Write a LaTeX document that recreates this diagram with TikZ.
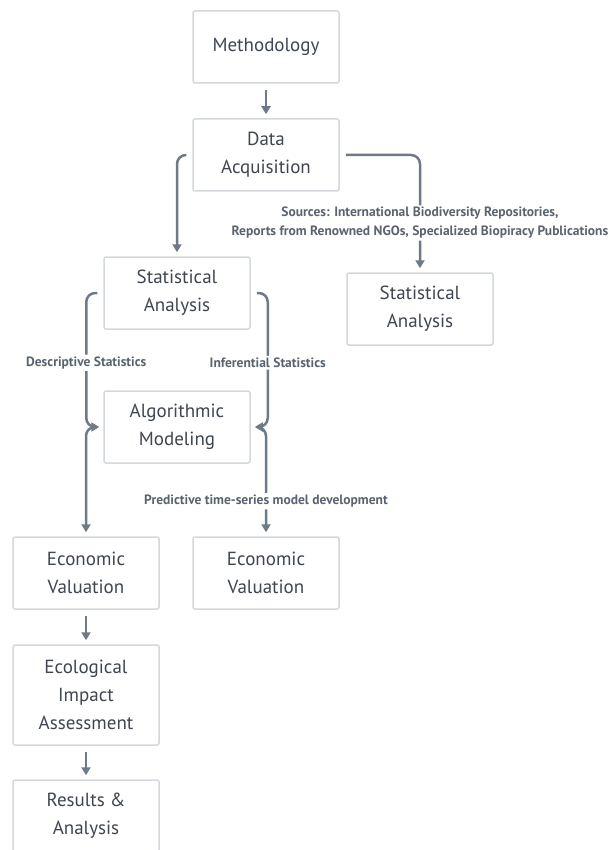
\documentclass[tikz,border=0pt]{standalone}
\usepackage{fontspec}
\setmainfont{PT Sans}
\usepackage{tikz}
\usetikzlibrary{arrows.meta, positioning}
\definecolor{BoxLine}{HTML}{D3D8DD}
\definecolor{TextGray}{HTML}{3F4650}
\definecolor{ArrowGray}{HTML}{6E7A87}
\definecolor{LabelGray}{HTML}{5A6470}
\tikzset{
    box/.style={draw=BoxLine, line width=1.5pt, fill=white, rounded corners=2pt, align=center, text=TextGray,
        font=\fontsize{19}{28}\selectfont, minimum height=72pt, minimum width=146pt},
    tallbox/.style={box, minimum height=100pt},
    arr/.style={-{Triangle[length=8pt, width=9pt]}, line width=2.5pt, draw=ArrowGray, rounded corners=9pt,
        shorten <=6pt, shorten >=4pt},
    edgelabel/.style={fill=white, text=LabelGray, font=\fontsize{13.5}{19}\selectfont\bfseries, align=center, inner sep=2pt}
}

\begin{document}
\begin{tikzpicture}[x=1pt, y=1pt]
    \useasboundingbox (0,0) rectangle (612,-850);

    % Main column
    \node[box] (meth) at (266,-47) {Methodology};
    \node[box] (acq) at (266,-155) {Data\\Acquisition};

    % Analysis branches
    \node[box] (stat1) at (177,-293) {Statistical\\Analysis};
    \node[box] (stat2) at (420,-309) {Statistical\\Analysis};
    \node[box] (algo) at (177,-427) {Algorithmic\\Modeling};

    % Valuation and results
    \node[box] (econ1) at (86,-573) {Economic\\Valuation};
    \node[box] (econ2) at (266,-573) {Economic\\Valuation};
    \node[tallbox] (eco) at (86,-695) {Ecological\\Impact\\Assessment};
    \node[box] (res) at (86,-816) {Results \&\\Analysis};

    % Edges
    \draw[arr] (meth) -- (acq);
    \draw[arr] (acq.west) -| (stat1.north);
    \draw[arr] (acq.east) -| node[edgelabel, pos=0.79] {Sources: International Biodiversity Repositories,\\Reports from Renowned NGOs, Specialized Biopiracy Publications} (stat2.north);
    \draw[arr] (stat1.west) -- ++(-17,0) |- node[edgelabel, pos=0.26] {Descriptive Statistics} (algo.west);
    \draw[arr] (stat1.east) -- ++(17,0) |- node[edgelabel, pos=0.26] {Inferential Statistics} (algo.east);
    \draw[arr] (algo.west) -| (econ1.north);
    \draw[arr] (algo.east) -| node[edgelabel, pos=0.84] {Predictive time-series model development} (econ2.north);
    \draw[arr] (econ1) -- (eco);
    \draw[arr] (eco) -- (res);
\end{tikzpicture}
\end{document}
